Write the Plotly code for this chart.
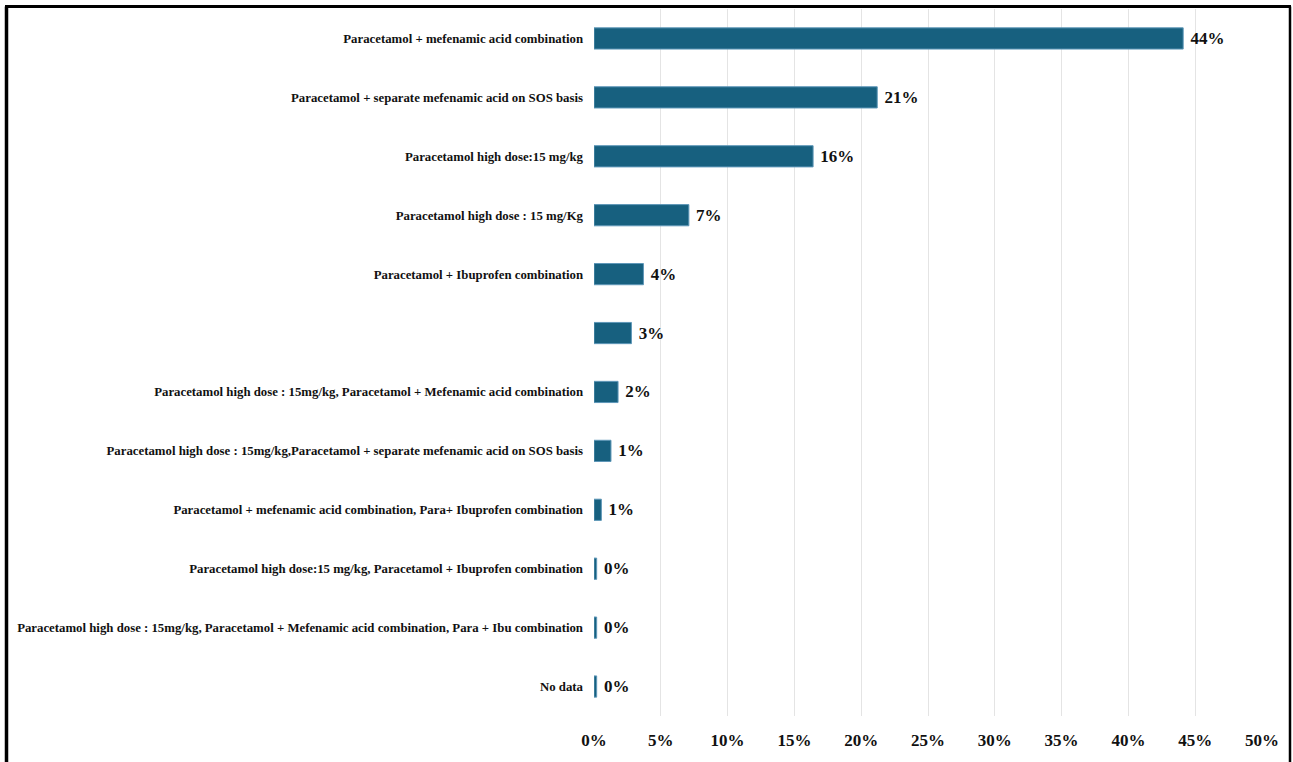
import plotly.graph_objects as go

# Treatment categories, top to bottom
categories = [
    "Paracetamol + mefenamic acid combination",
    "Paracetamol + separate mefenamic acid on SOS basis",
    "Paracetamol high dose:15 mg/kg",
    "Paracetamol high dose : 15 mg/Kg",
    "Paracetamol + Ibuprofen combination",
    " ",
    "Paracetamol high dose : 15mg/kg, Paracetamol + Mefenamic acid combination",
    "Paracetamol high dose : 15mg/kg,Paracetamol + separate mefenamic acid on SOS basis",
    "Paracetamol + mefenamic acid combination, Para+ Ibuprofen combination",
    "Paracetamol high dose:15 mg/kg, Paracetamol + Ibuprofen combination",
    "Paracetamol high dose : 15mg/kg, Paracetamol + Mefenamic acid combination, Para + Ibu combination",
    "No data",
]

# Share of respondents (fraction)
shares = [0.441, 0.212, 0.164, 0.071, 0.037, 0.028, 0.018, 0.0127, 0.0055, 0.002, 0.002, 0.002]

tick_values = [0, 0.05, 0.10, 0.15, 0.20, 0.25, 0.30, 0.35, 0.40, 0.45, 0.50]

FONT = "Liberation Serif"
BAR = "#17607F"

fig = go.Figure(
    go.Bar(
        x=shares,
        y=categories,
        orientation="h",
        marker=dict(color=BAR, line=dict(color="#5E97B8", width=1)),
        texttemplate=" %{x:.0%}",
        textposition="outside",
        cliponaxis=False,
        textfont=dict(family=FONT, size=17, color="#111111", weight="bold"),
        hoverinfo="skip",
    )
)

W, H = 1293, 762
L, R, T, B = 594, 31, 8.5, 45.5
pw, ph = W - L - R, H - T - B

fig.update_layout(
    width=W,
    height=H,
    margin=dict(l=L, r=R, t=T, b=B, pad=0),
    paper_bgcolor="white",
    plot_bgcolor="white",
    bargap=0.64,
    showlegend=False,
    xaxis=dict(
        range=[0, 0.5],
        tickvals=tick_values,
        tickformat=".0%",
        showgrid=True,
        gridcolor="#E4E4E4",
        gridwidth=1,
        zeroline=False,
        showline=False,
        ticks="",
        ticklabelstandoff=12,
        tickfont=dict(family=FONT, size=17, color="#111111", weight="bold"),
    ),
    yaxis=dict(
        autorange="reversed",
        showgrid=False,
        zeroline=False,
        showline=False,
        ticks="",
        ticklabelstandoff=10,
        tickfont=dict(family=FONT, size=12.8, color="#111111", weight="bold"),
    ),
    shapes=[
        # outer frame: left, top and right edges
        dict(type="line", xref="paper", yref="paper",
             x0=(6.5 - L) / pw, x1=(6.5 - L) / pw, y0=(H - B - 6) / ph, y1=-(B + 10) / ph,
             line=dict(color="black", width=3.5)),
        dict(type="line", xref="paper", yref="paper",
             x0=(5 - L) / pw, x1=(1291 - L) / pw, y0=(H - B - 6) / ph, y1=(H - B - 6) / ph,
             line=dict(color="black", width=3)),
        dict(type="line", xref="paper", yref="paper",
             x0=(1290 - L) / pw, x1=(1290 - L) / pw, y0=(H - B - 6) / ph, y1=-(B + 10) / ph,
             line=dict(color="black", width=2.5)),
    ],
)

fig.write_html("out.html")
